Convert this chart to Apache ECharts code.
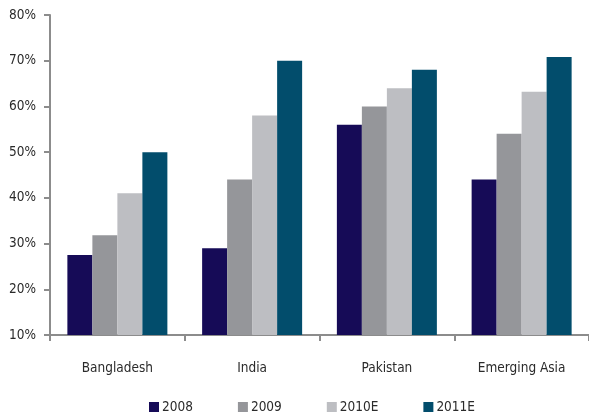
<!DOCTYPE html>
<html>
<head>
<meta charset="utf-8">
<script src="https://cdn.jsdelivr.net/npm/echarts@6/dist/echarts.min.js"></script>
<style>
  html, body { margin: 0; padding: 0; background: #fff; }
  #chart { width: 589px; height: 413px; }
</style>
</head>
<body>
<div id="chart"></div>
<script>
// Categories and yearly shares (%)
const categories = ['Bangladesh', 'India', 'Pakistan', 'Emerging Asia'];
const seriesNames = ['2008', '2009', '2010E', '2011E'];
const values2008 = [27.5, 29, 56, 44];
const values2009 = [31.8, 44, 60, 54];
const values2010E = [41, 58, 64, 63.2];
const values2011E = [50, 70, 68, 70.8];
const colors = ['#160b57', '#95969a', '#bdbec2', '#024d6c'];

const allValues = [values2008, values2009, values2010E, values2011E];
const font = '"Liberation Sans Narrow", "DejaVu Sans Condensed", Lato, sans-serif';
const textColor = '#2b2b2b';
const fontSize = 13.5;

const chart = echarts.init(document.getElementById('chart'));
chart.setOption({
  animation: false,
  textStyle: { fontFamily: font },
  grid: { left: 50, right: 0, top: 15, bottom: 78, containLabel: false },
  legend: {
    top: 395,
    left: 144,
    itemWidth: 10,
    itemHeight: 10,
    itemGap: 45,
    icon: 'rect',
    textStyle: { fontSize: fontSize, color: textColor, fontFamily: font, padding: [0, 0, 0, -2] },
    data: seriesNames
  },
  xAxis: {
    type: 'category',
    data: categories,
    axisLine: { lineStyle: { color: '#8c8c8c', width: 2 } },
    axisTick: { show: true, length: 6, lineStyle: { color: '#8c8c8c', width: 2 } },
    axisLabel: { margin: 26, fontSize: fontSize, color: textColor, fontFamily: font },
    splitLine: { show: false }
  },
  yAxis: {
    type: 'value',
    min: 10,
    max: 80,
    interval: 10,
    axisLine: { show: true, lineStyle: { color: '#8c8c8c', width: 2 } },
    axisTick: { show: true, length: 6, lineStyle: { color: '#8c8c8c', width: 2 } },
    axisLabel: { formatter: '{value}%', fontSize: fontSize, color: textColor, margin: 14, fontFamily: font },
    splitLine: { show: false }
  },
  series: seriesNames.map((name, i) => ({
    name: name,
    type: 'bar',
    data: allValues[i],
    barWidth: 25,
    barGap: '0%',
    itemStyle: { color: colors[i] }
  }))
});
</script>
</body>
</html>
